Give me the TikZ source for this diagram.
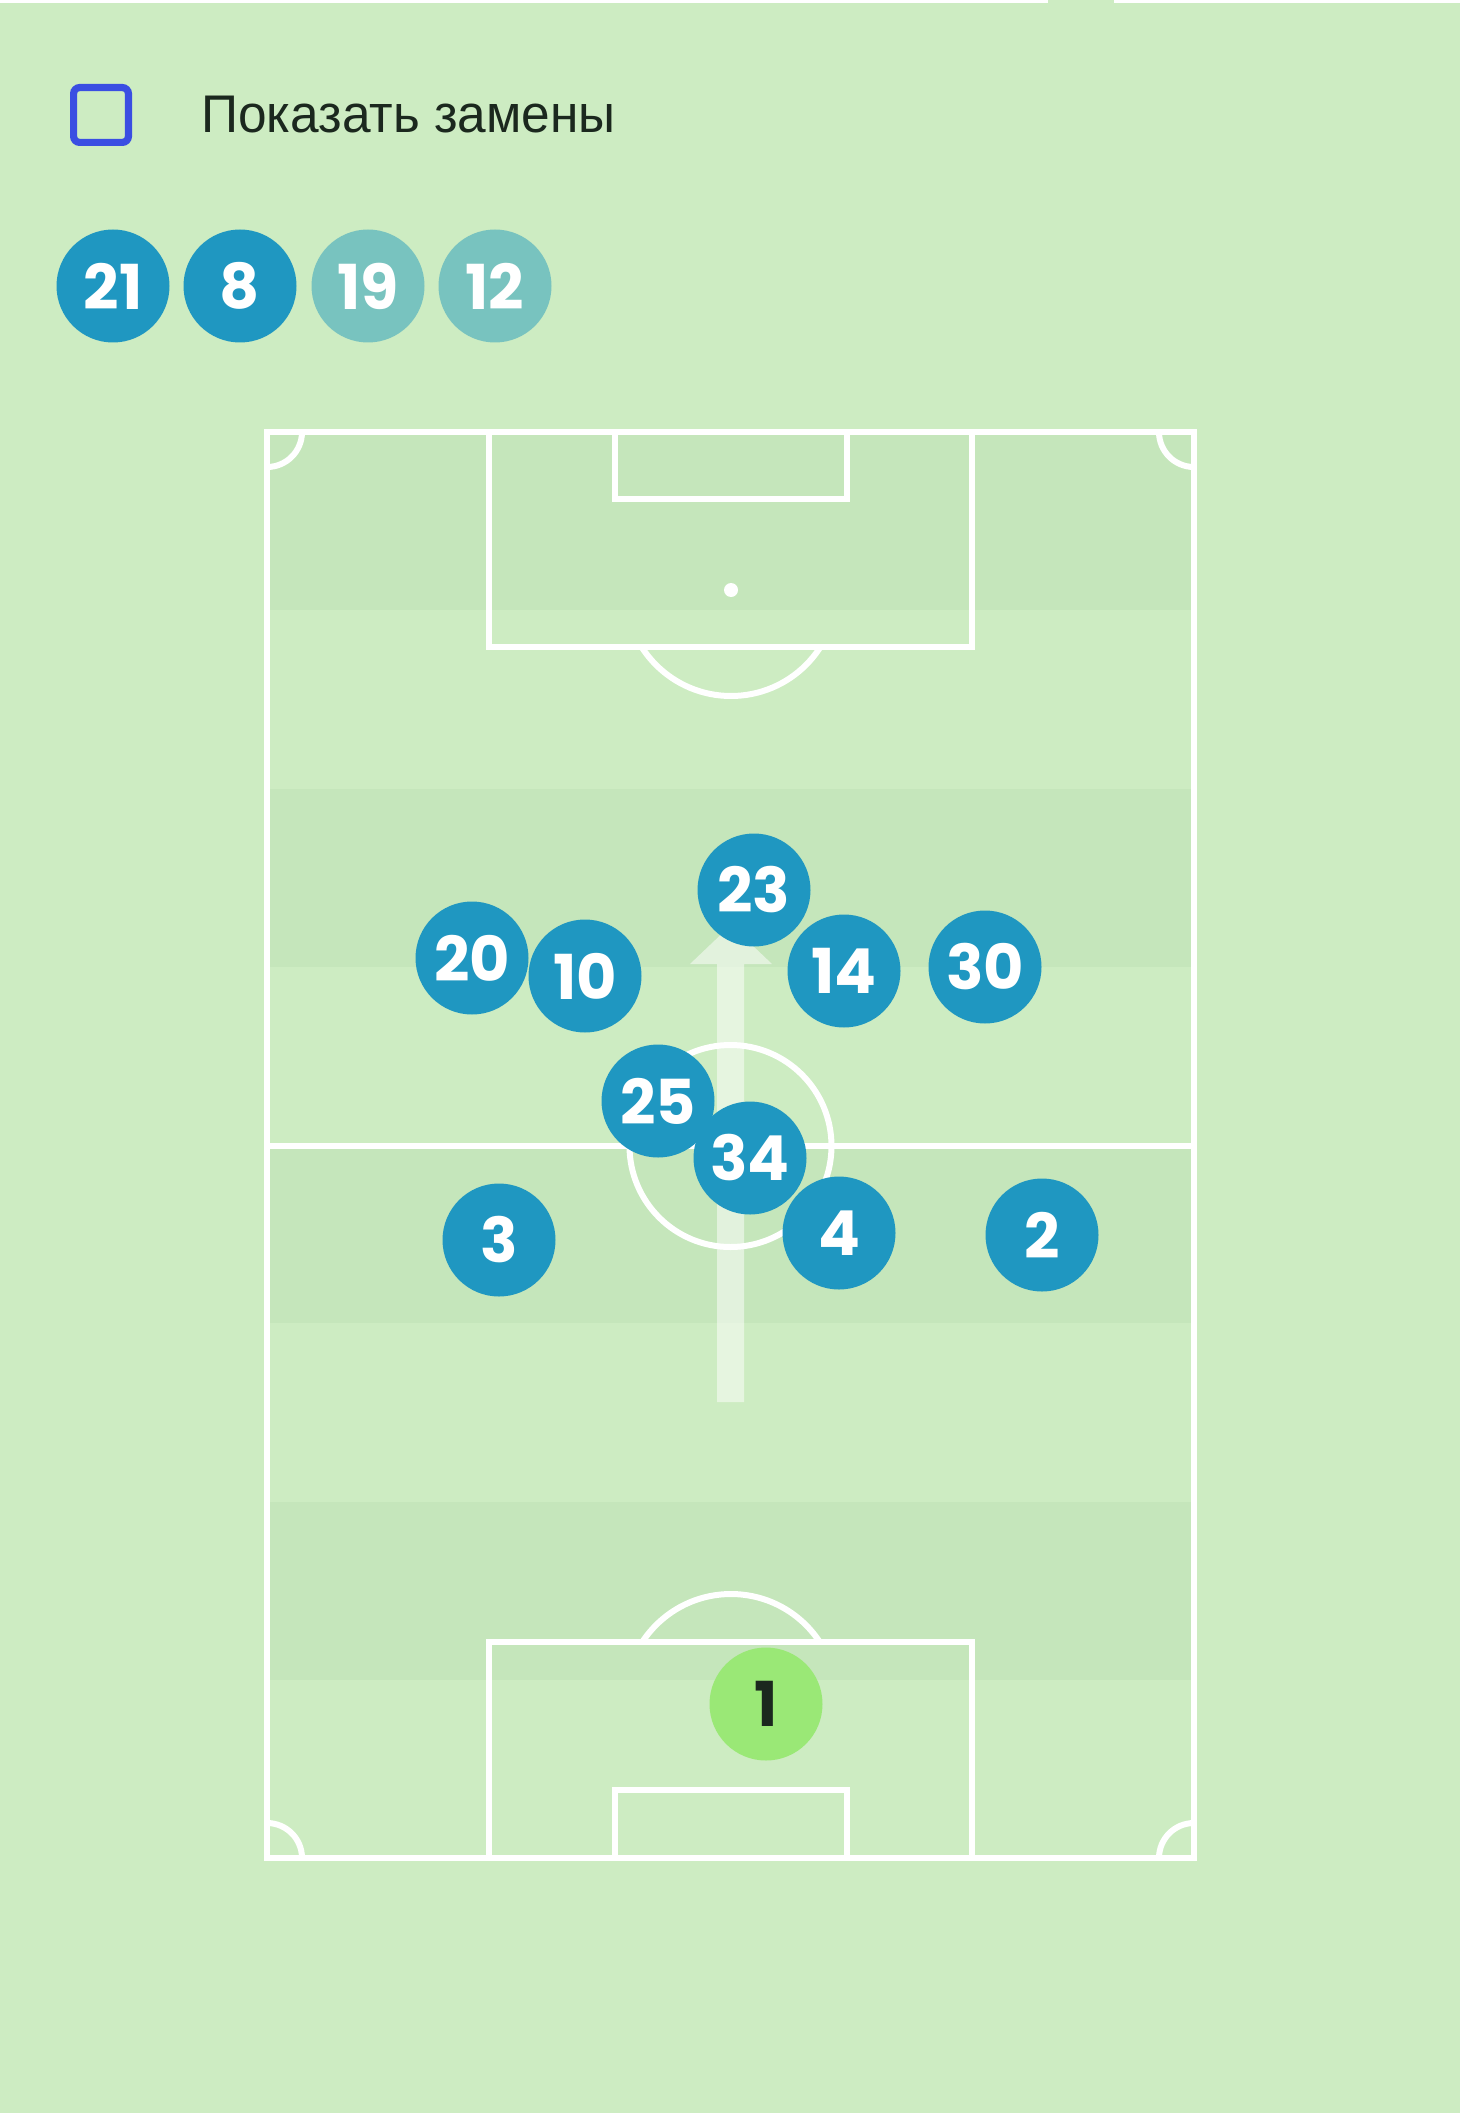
\documentclass[tikz,border=0pt]{standalone}
\usepackage{fontspec}
\newfontfamily\numfont{Poppins}
\newfontfamily\lblfont{Liberation Sans}
\definecolor{bg}{RGB}{205,236,194}
\definecolor{stripe}{RGB}{197,230,187}
\definecolor{pblue}{RGB}{31,151,193}
\definecolor{pteal}{RGB}{120,195,191}
\definecolor{pgk}{RGB}{154,232,118}
\definecolor{chkblue}{RGB}{58,78,226}
\definecolor{txtdark}{RGB}{27,40,30}
\begin{document}
\begin{tikzpicture}[x=0.5pt,y=-0.5pt,
  pl/.style={circle, fill=pblue, minimum size=56.5pt, inner sep=0pt, text=white,
    font=\fontsize{31}{31}\selectfont\numfont\bfseries},
  subteal/.style={pl, fill=pteal},
  gk/.style={pl, fill=pgk, text=txtdark},
  pline/.style={draw=white, line width=3pt}]
% background
\fill[bg] (0,0) rectangle (1460,2113);
\useasboundingbox (0,0) rectangle (1460,2113);
\fill[white] (0,0) rectangle (1048,3);
\fill[white] (1114,0) rectangle (1460,3);
% stripes
\foreach \k in {0,2,4,6} {
  \fill[stripe] (267,{432+\k*178.25}) rectangle (1194,{432+(\k+1)*178.25});
}
% header
\node[draw=chkblue, line width=3.6pt, rounded corners=3pt, minimum size=27.4pt, inner sep=0pt] (chk) at (101,115) {};
\node[anchor=west, inner sep=0pt, text=txtdark, font=\fontsize{26.5}{28}\selectfont\lblfont] (lbl) at (201,115) {\scalebox{0.97}[1]{Показать замены}};
\node[pl] (s21) at (113,286) {21};
\node[pl] (s8) at (240,286) {8};
\node[subteal] (s19) at (368,286) {19};
\node[subteal] (s12) at (495,286) {12};
% pitch lines
\draw[pline] (267,432) rectangle (1194,1858);
\draw[pline] (489,432) rectangle (972,647);
\draw[pline] (615,432) rectangle (847,499);
\draw[pline] (489,1642) rectangle (972,1858);
\draw[pline] (615,1790) rectangle (847,1858);
\draw[pline] (267,1146) -- (1194,1146);
\draw[pline] (730.5,1146) circle (101);
\fill[white] (731,590) circle (7);
\fill[white] (731,1700) circle (7);
\fill[white] (730.5,1146) circle (7);
\begin{scope}
  \clip (267,432) rectangle (1194,1858);
  \draw[pline] (267,432) circle (35);
  \draw[pline] (1194,432) circle (35);
  \draw[pline] (267,1858) circle (35);
  \draw[pline] (1194,1858) circle (35);
\end{scope}
\begin{scope}
  \clip (267,648.5) rectangle (1194,800);
  \draw[pline] (731,590) circle (106);
\end{scope}
\begin{scope}
  \clip (267,1500) rectangle (1194,1640.5);
  \draw[pline] (731,1700) circle (106);
\end{scope}
% arrow
\fill[white, opacity=0.5] (717,1402) -- (744,1402) -- (744,964) -- (772,964) -- (731,925) -- (690,964) -- (717,964) -- cycle;
% players
\node[pl] (p20) at (472,958) {20};
\node[pl] (p10) at (585,976) {10};
\node[pl] (p23) at (754,890) {23};
\node[pl] (p14) at (844,971) {14};
\node[pl] (p30) at (985,967) {30};
\node[pl] (p25) at (658,1101) {25};
\node[pl] (p34) at (750,1158) {34};
\node[pl] (p4) at (839,1233) {4};
\node[pl] (p3) at (499,1240) {3};
\node[pl] (p2) at (1042,1235) {2};
\node[gk] (p1) at (766,1704) {1};
\end{tikzpicture}
\end{document}
